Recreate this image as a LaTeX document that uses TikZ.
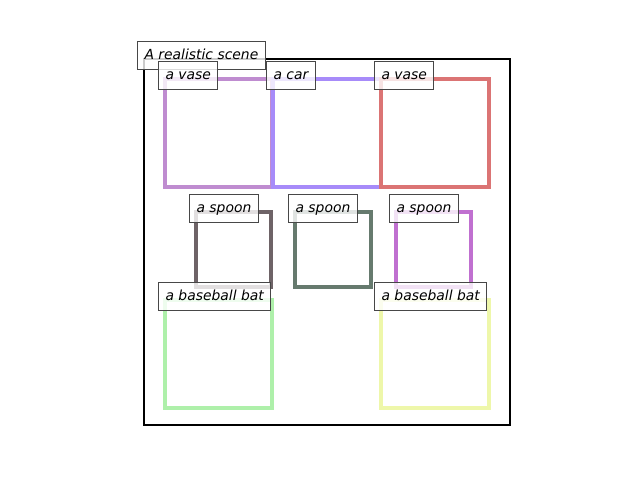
\documentclass[tikz,border=0pt]{standalone}
\usepackage{fontspec}
\setmainfont{DejaVu Sans}
\definecolor{cvaseA}{HTML}{BF8CD0}
\definecolor{ccar}{HTML}{A78BF9}
\definecolor{cvaseB}{HTML}{DB7474}
\definecolor{cspoonA}{HTML}{6E6367}
\definecolor{cspoonB}{HTML}{667A6E}
\definecolor{cspoonC}{HTML}{C070D0}
\definecolor{cbatA}{HTML}{AEF0AA}
\definecolor{cbatB}{HTML}{EEF7AA}
\tikzset{
  objbox/.style={line width=2.2pt},
  tag/.style={draw=black!72, line width=0.8pt, fill=white, fill opacity=0.8, text opacity=1,
    inner xsep=5pt, inner ysep=5pt, text height=7.4pt, text depth=2.3pt,
    anchor=base west, xshift=-5pt, font=\itshape\fontsize{10}{12}\selectfont}
}
\begin{document}
\begin{tikzpicture}[x=0.72pt,y=-0.72pt]
\useasboundingbox (0,0) rectangle (640,480);
\draw[line width=2.05pt] (144,59) rectangle (510,425);
\draw[objbox,cvaseA] (165,79) rectangle (272,187);
\draw[objbox,ccar] (273,79) rectangle (381,187);
\draw[objbox,cvaseB] (381,79) rectangle (489,187);
\draw[objbox,cspoonA] (196,212) rectangle (271,287);
\draw[objbox,cspoonB] (295,212) rectangle (371,287);
\draw[objbox,cspoonC] (396,212) rectangle (471,287);
\draw[objbox,cbatA] (165,300) rectangle (272,408);
\draw[objbox,cbatB] (381,300) rectangle (489,408);
\node[tag] (scene) at (144,59) {A realistic scene};
\node[tag] (vase1) at (165,79) {a vase};
\node[tag] (car) at (273,79) {a car};
\node[tag] (vase2) at (381,79) {a vase};
\node[tag] (spoon1) at (196,212) {a spoon};
\node[tag] (spoon2) at (295,212) {a spoon};
\node[tag] (spoon3) at (396,212) {a spoon};
\node[tag] (bat1) at (165,300) {a baseball bat};
\node[tag] (bat2) at (381,300) {a baseball bat};
\end{tikzpicture}
\end{document}
